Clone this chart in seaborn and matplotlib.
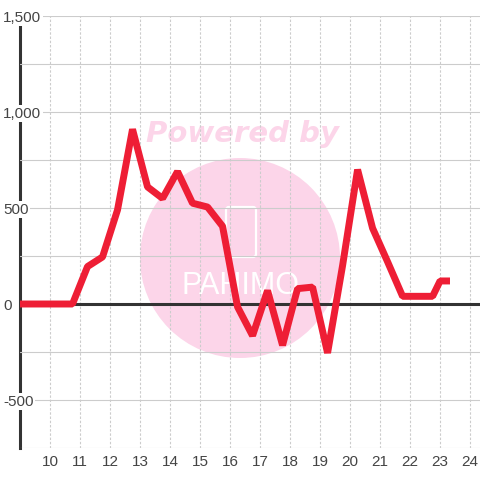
import matplotlib
matplotlib.use("Agg")
import matplotlib.pyplot as plt
from matplotlib.patches import Circle, FancyBboxPatch
from matplotlib.ticker import FixedLocator
import seaborn as sns
import pandas as pd

# ---- data ----
hours = [8.75, 9.25, 9.75, 10.25, 10.75, 11.25, 11.75, 12.25, 12.75, 13.25,
         13.75, 14.25, 14.75, 15.25, 15.75, 16.25, 16.75, 17.25, 17.75, 18.25,
         18.75, 19.25, 19.75, 20.25, 20.75, 21.25, 21.75, 22.25, 22.75, 23.0,
         23.33]
values = [0, 0, 0, 0, 0, 195, 245, 490, 910, 610,
          550, 690, 525, 505, 405, -15, -165, 70, -215, 80,
          88, -255, 200, 700, 395, 220, 40, 40, 40, 120,
          120]
x_ticks = list(range(10, 25))
y_major = [-500, 0, 500, 1000, 1500]
y_labels = ["-500", "0", "500", "1,000", "1,500"]
y_minor = [-750, -250, 250, 750, 1250]

df = pd.DataFrame({"hour": hours, "value": values})

sns.set_style("white")
plt.rcParams["font.family"] = ["Liberation Sans", "DejaVu Sans"]

fig = plt.figure(figsize=(4.8, 4.8), dpi=100, facecolor="white")
ax = fig.add_axes([20 / 480, 1 - 448 / 480, 460 / 480, 432 / 480])
ax.set_facecolor("none")

# watermark (behind grid)
circ = Circle((2.40, (480 - 258) / 100), 1.0, transform=fig.dpi_scale_trans,
              facecolor="#fcd5e9", edgecolor="none", zorder=-2)
fig.patches.append(circ)
fig.text(242 / 480, 1 - 134 / 480, "Powered by", ha="center", va="center",
         fontsize=21, fontweight="bold", fontstyle="oblique", color="#fcd5e9",
         family="DejaVu Sans", zorder=-2)
icon = FancyBboxPatch((2.26, (480 - 257) / 100), 0.30, 0.50,
                      boxstyle="round,pad=0,rounding_size=0.03",
                      transform=fig.dpi_scale_trans, facecolor="none",
                      edgecolor="white", linewidth=1.6, zorder=-1)
fig.patches.append(icon)
fig.text(240 / 480, 1 - 286 / 480, "PAHIMO", ha="center", va="center",
         fontsize=22, color="white", fontweight="light", zorder=-1)

ax.set_axisbelow(True)
sns.lineplot(data=df, x="hour", y="value", ax=ax, color="#ee1e35",
             linewidth=5.0, sort=False, zorder=5,
             solid_joinstyle="bevel", solid_capstyle="butt")
ax.axhline(0, color="#333333", linewidth=2.2, zorder=1)

ax.set_xlim(9.0, 24.33)
ax.set_ylim(-750, 1500)

ax.set_xticks(x_ticks)
ax.set_xticklabels([str(t) for t in x_ticks])
ax.yaxis.set_major_locator(FixedLocator(y_major))
ax.set_yticklabels(y_labels)
ax.yaxis.set_minor_locator(FixedLocator(y_minor))

ax.grid(True, axis="y", which="both", color="#cccccc", linewidth=0.8,
        linestyle="-")
ax.grid(True, axis="x", which="major", color="#cccccc", linewidth=0.8,
        linestyle=(0, (2.2, 1.6)))
ax.grid(False, axis="x", which="minor")

ax.tick_params(axis="both", which="both", length=0)
ax.tick_params(axis="x", pad=5.0, labelsize=11, labelcolor="#444444")
ax.tick_params(axis="y", pad=12.2, labelsize=11, labelcolor="#444444")
for tick in ax.yaxis.get_major_ticks():
    tick.label1.set_horizontalalignment("left")
    tick.label1.set_bbox(dict(facecolor="white", edgecolor="none", pad=1.0))

for side in ["top", "right", "bottom"]:
    ax.spines[side].set_visible(False)
ax.spines["left"].set_color("#333333")
ax.spines["left"].set_linewidth(2.2)
ax.spines["left"].set_zorder(0.4)

ax.set_xlabel("")
ax.set_ylabel("")

fig.savefig("out.png", dpi=100, facecolor="white")
